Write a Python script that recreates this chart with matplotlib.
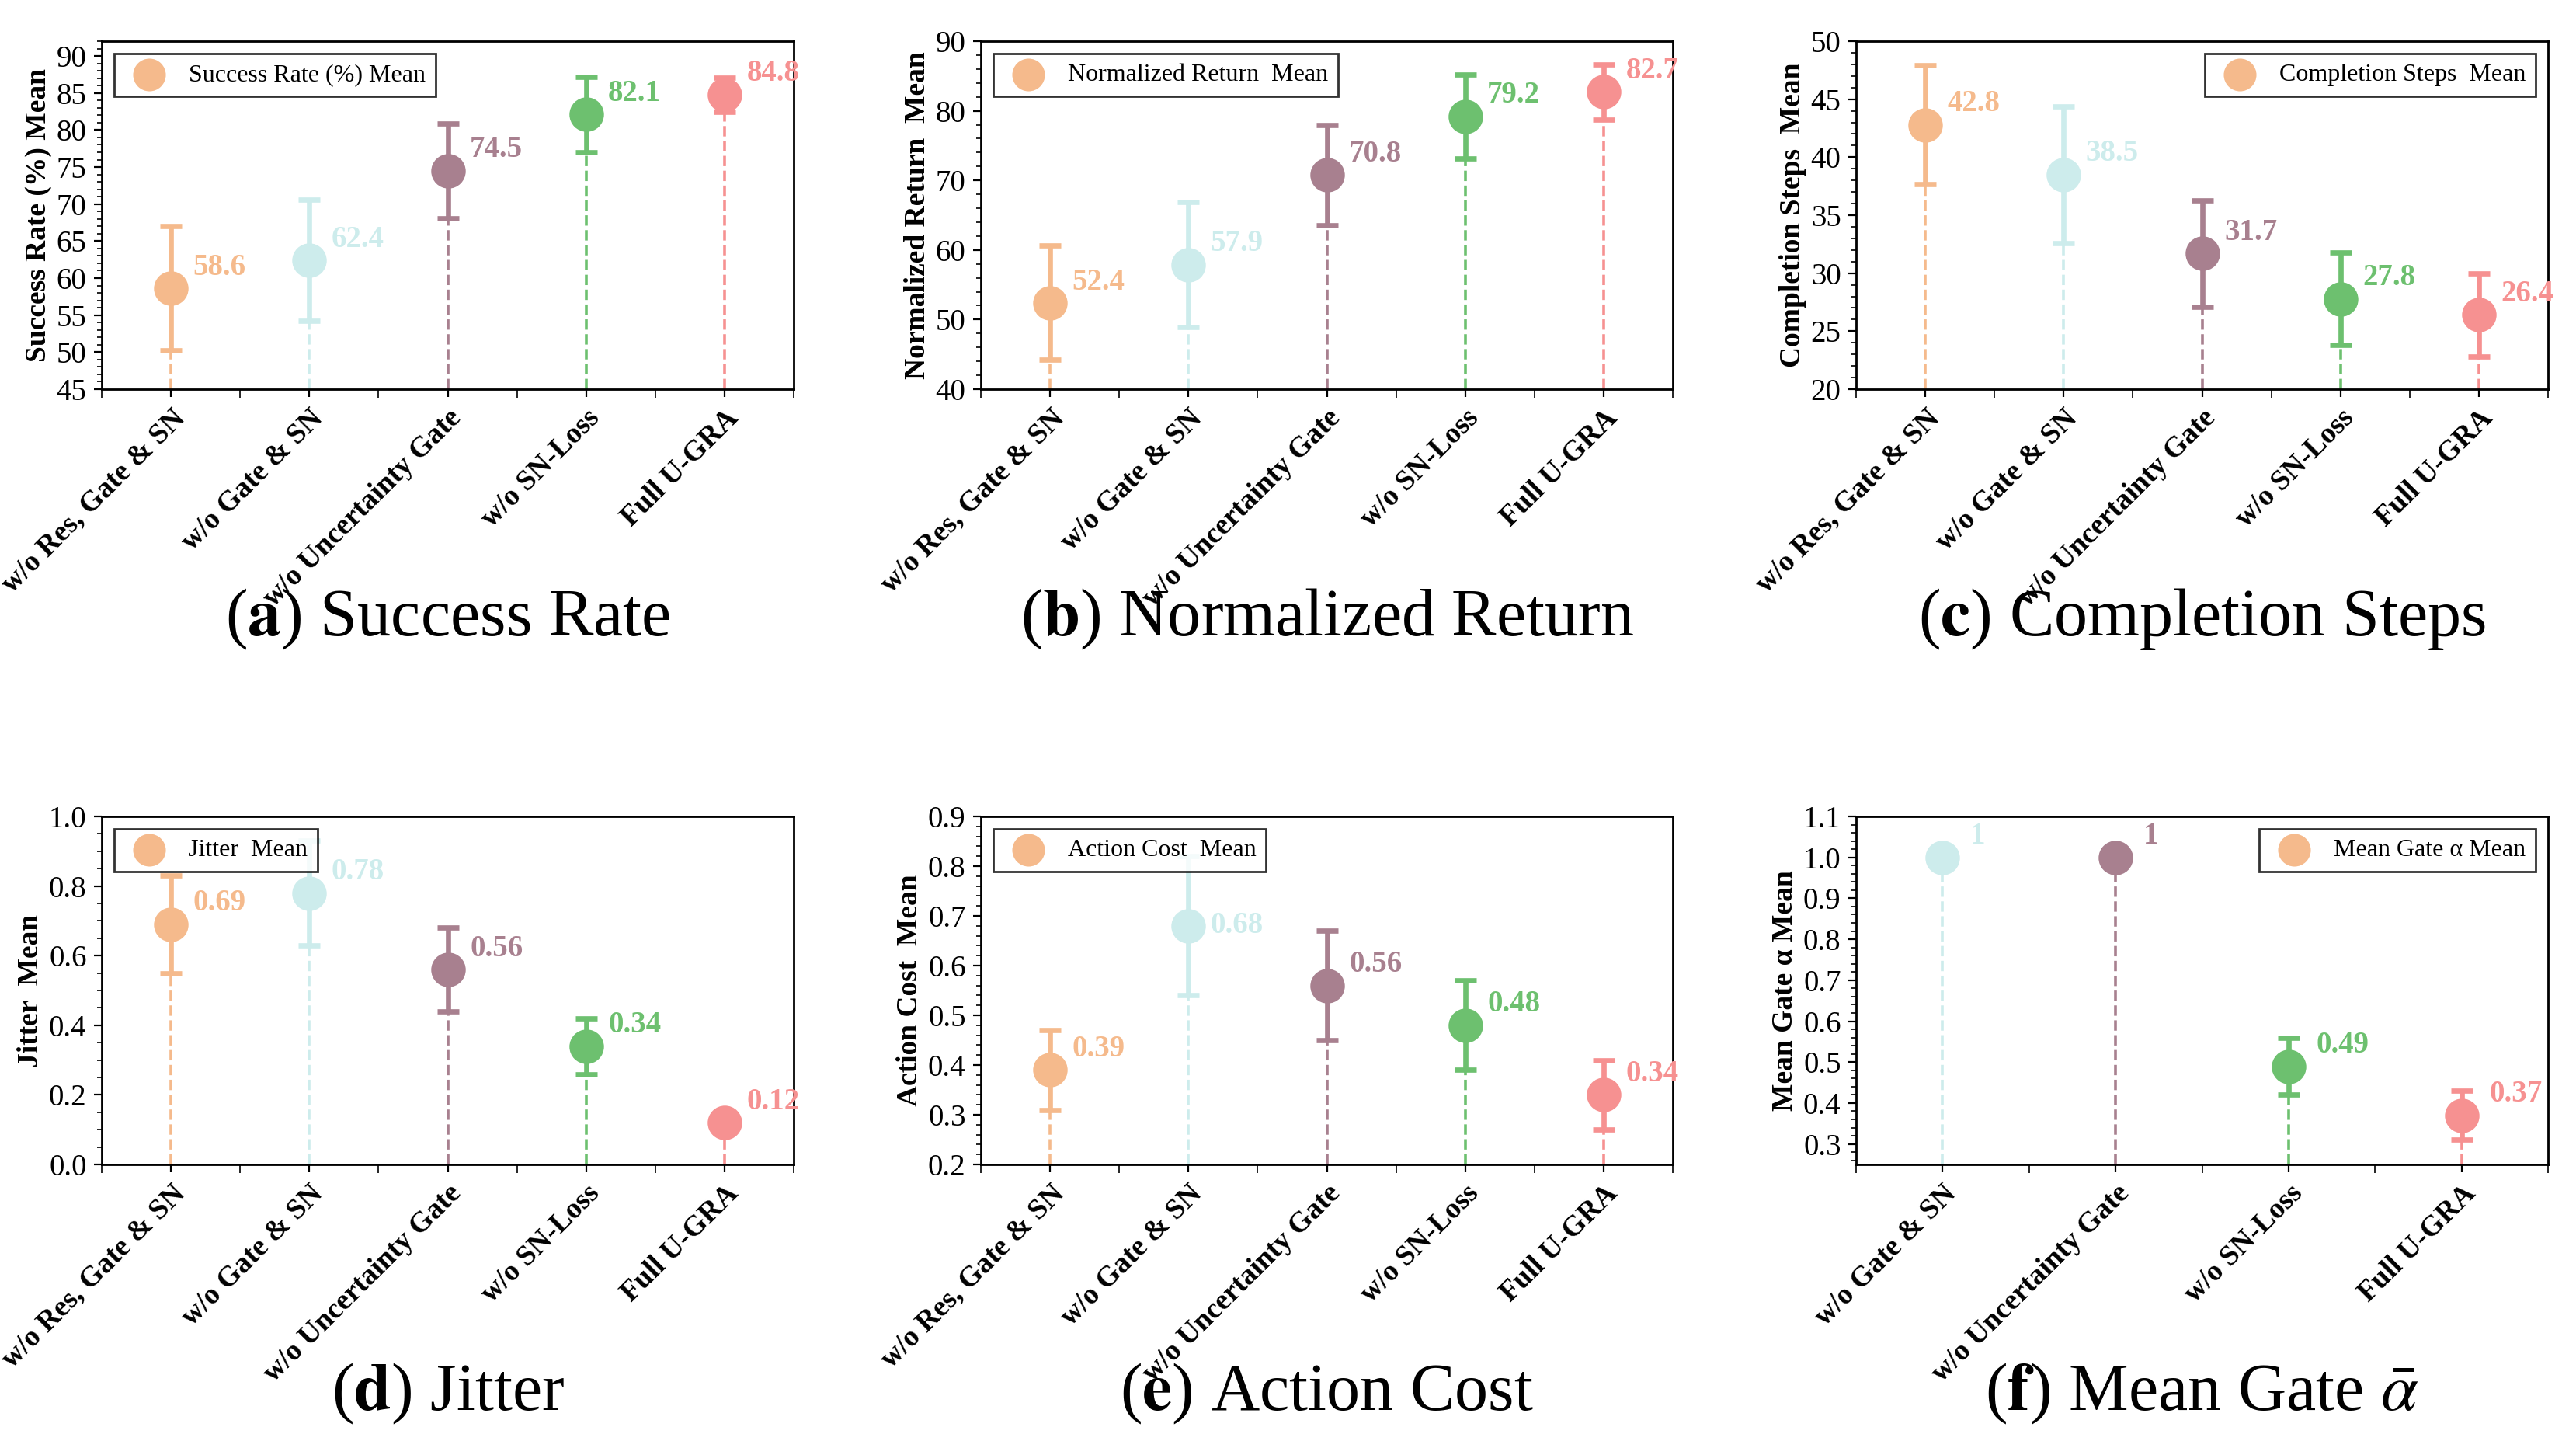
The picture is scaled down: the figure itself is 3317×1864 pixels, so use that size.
import matplotlib
matplotlib.use("Agg")
import matplotlib.pyplot as plt

plt.rcParams['font.family'] = ['Liberation Serif', 'DejaVu Serif']
plt.rcParams['mathtext.fontset'] = 'stix'

cats5 = ["w/o Res, Gate & SN", "w/o Gate & SN", "w/o Uncertainty Gate", "w/o SN-Loss", "Full U-GRA"]
cats4 = cats5[1:]
colors5 = ["#F5BA8C", "#CDECEC", "#A8808F", "#6DC06F", "#F69191"]

sr_mean = [58.6, 62.4, 74.5, 82.1, 84.8]
sr_err = [8.4, 8.2, 6.4, 5.1, 2.3]
nr_mean = [52.4, 57.9, 70.8, 79.2, 82.7]
nr_err = [8.2, 9.0, 7.2, 6.0, 4.0]
cs_mean = [42.8, 38.5, 31.7, 27.8, 26.4]
cs_err = [5.1, 5.9, 4.6, 4.0, 3.6]
ji_mean = [0.69, 0.78, 0.56, 0.34, 0.12]
ji_err = [0.14, 0.15, 0.12, 0.08, 0.02]
ac_mean = [0.39, 0.68, 0.56, 0.48, 0.34]
ac_err = [0.08, 0.14, 0.11, 0.09, 0.07]
mg_mean = [1.0, 1.0, 0.49, 0.37]
mg_err = [0.0, 0.0, 0.07, 0.06]

panels = [
    (sr_mean, sr_err, cats5, colors5, "Success Rate (%) Mean", (45, 92), [45,50,55,60,65,70,75,80,85,90], "upper left", "a", "Success Rate", "{:.1f}"),
    (nr_mean, nr_err, cats5, colors5, "Normalized Return  Mean", (40, 90), [40,50,60,70,80,90], "upper left", "b", "Normalized Return", "{:.1f}"),
    (cs_mean, cs_err, cats5, colors5, "Completion Steps  Mean", (20, 50), [20,25,30,35,40,45,50], "upper right", "c", "Completion Steps", "{:.1f}"),
    (ji_mean, ji_err, cats5, colors5, "Jitter  Mean", (0, 1.0), [0,0.2,0.4,0.6,0.8,1.0], "upper left", "d", "Jitter", "{:g}"),
    (ac_mean, ac_err, cats5, colors5, "Action Cost  Mean", (0.2, 0.9), [0.2,0.3,0.4,0.5,0.6,0.7,0.8,0.9], "upper left", "e", "Action Cost", "{:g}"),
    (mg_mean, mg_err, cats4, colors5[1:], "Mean Gate \u03b1 Mean", (0.25, 1.1), [0.3,0.4,0.5,0.6,0.7,0.8,0.9,1.0,1.1], "upper right", "f", "Mean Gate $\\bar{\\alpha}$", "{:g}"),
]

W, H = 3317, 1864
fig = plt.figure(figsize=(W/200, H/200), dpi=200)
lefts = [131, 1263, 2390]
tops = [53, 1051]
aw, ah = 891, 448

for i, (mean, err, cats, cols, ylab, ylim, yt, legloc, letter, title, fmt) in enumerate(panels):
    r, c = divmod(i, 3)
    ax = fig.add_axes([lefts[c]/W, 1-(tops[r]+ah)/H, aw/W, ah/H])
    n = len(cats)
    x = list(range(n))
    rng = ylim[1] - ylim[0]
    for j in range(n):
        lo = mean[j]-err[j]
        ax.plot([x[j], x[j]], [ylim[0], lo], ls='--', color=cols[j], lw=1.3, zorder=1)
        ax.errorbar(x[j], mean[j], yerr=err[j] if err[j] > 0 else None, fmt='o', color=cols[j],
                    ms=15, elinewidth=2.4, capsize=5, capthick=2.4, zorder=3)
        dy = 0.0 if (letter == 'e' and j == 1) else 0.06*rng
        ax.text(x[j]+0.16, mean[j]+dy, fmt.format(mean[j]),
                color=cols[j], fontsize=14, fontweight='bold', ha='left', va='center')
    h = ax.scatter([], [], s=200, color=colors5[0])
    ax.legend([h], [ylab], loc=legloc, fontsize=11.5, frameon=True, fancybox=False,
              edgecolor='black', handletextpad=0.6, borderpad=0.4)
    ax.set_xlim(-0.5, n-0.5)
    ax.set_ylim(*ylim)
    ax.set_yticks(yt)
    ax.minorticks_on()
    ax.set_xticks(x)
    ax.set_xticks([k+0.5 for k in range(-1, n)], minor=True)
    ax.set_xticklabels(cats, rotation=45, ha='right', rotation_mode='anchor', fontsize=13.5, fontweight='bold')
    ax.tick_params(axis='y', labelsize=14, direction='out')
    ax.tick_params(axis='x', which='minor', length=4)
    ax.set_ylabel(ylab, fontsize=13.5, fontweight='bold', labelpad=2)
    for s in ax.spines.values():
        s.set_linewidth(1.0)
    cx = (lefts[c] + aw/2)/W
    cy = 1 - (797 if r == 0 else 1794)/H
    fig.text(cx, cy, f"($\\mathbf{{{letter}}}$) {title}", fontsize=31, ha='center', va='center')

fig.savefig("out.png", dpi=200, facecolor='white')
